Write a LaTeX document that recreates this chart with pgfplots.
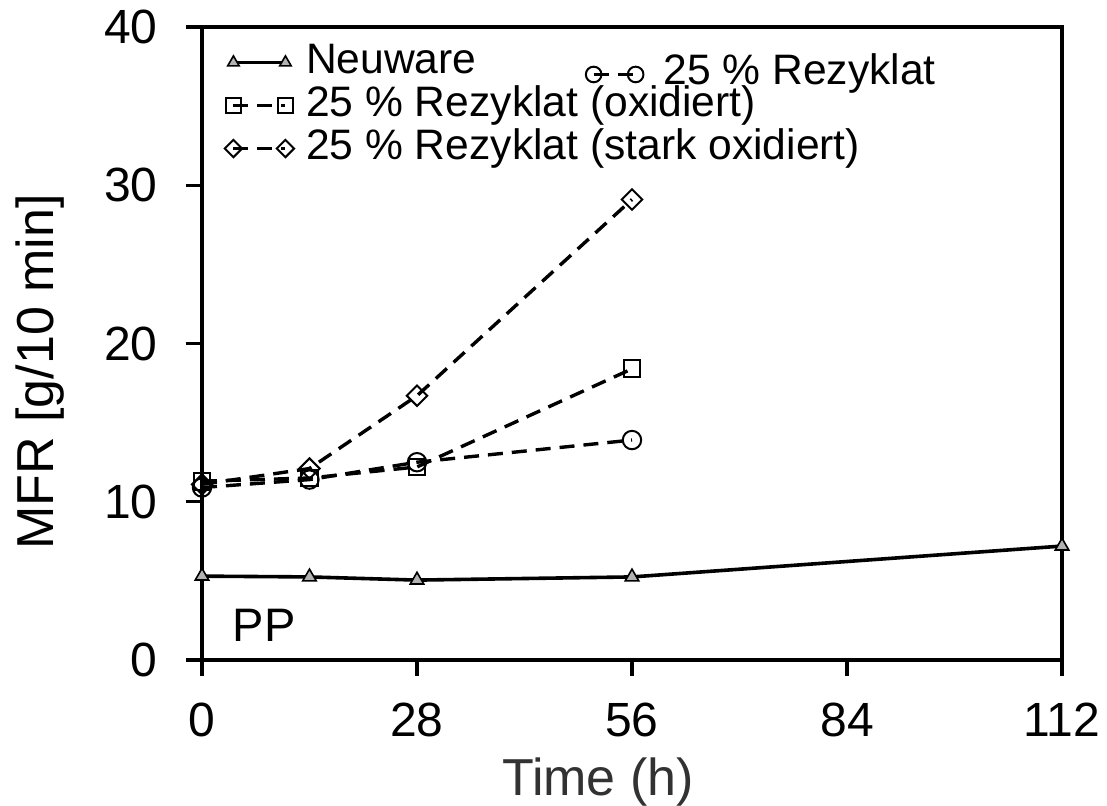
\documentclass[border=0pt]{standalone}
\usepackage{fontspec}
\setmainfont{Liberation Sans}
\usepackage{pgfplots}
\usepackage{pgfplotstable}
\pgfplotsset{compat=1.18}

% MFR of PP after ageing time (h)
\pgfplotstableread{
t    mfr
0    5.30
14   5.25
28   5.05
56   5.25
112  7.20
}\neuware

\pgfplotstableread{
t    mfr
0    10.9
14   11.4
28   12.5
56   13.9
}\rezyklat

\pgfplotstableread{
t    mfr
0    11.3
14   11.5
28   12.2
56   18.4
}\oxidiert

\pgfplotstableread{
t    mfr
0    11.1
14   12.1
28   16.7
56   29.1
}\starkoxidiert

\pgfplotsset{
  mfrlegend/.style={
    legend image code/.code={
      \draw[mark repeat=2, mark phase=1, ##1,
            every mark/.append style={scale=0.85}]
        plot coordinates {(0pt,0pt) (#1/2,0pt) (#1,0pt)};
    }
  },
  tri/.style={solid, line width=1.8pt, black,
    mark=triangle*, mark size=3.9pt,
    mark options={solid, fill=gray!60, draw=black, line width=0.8pt}},
  dsh/.style={line width=1.7pt, black, dash pattern=on 7.5pt off 4.5pt},
  circ/.style={dsh, mark=o, mark size=4.6pt,
    mark options={solid, line width=1pt}},
  sqr/.style={dsh, mark=square, mark size=4.2pt,
    mark options={solid, line width=1pt}},
  dmd/.style={dsh, mark=square, mark size=3.6pt,
    mark options={solid, rotate=45, line width=1pt}},
}

\begin{document}
\begin{tikzpicture}
\path[use as bounding box] (-101pt,-72.5pt) rectangle (452.5pt,330pt);
\begin{axis}[
  at={(0pt,0pt)}, anchor=south west,
  scale only axis, width=430pt, height=316.5pt,
  xmin=0, xmax=112, ymin=0, ymax=40,
  xtick={0,28,56,84,112}, ytick={0,10,20,30,40},
  tick pos=left, tick align=outside, major tick length=8pt,
  axis line style={line width=1.6pt, black},
  every tick/.style={line width=1.6pt, black},
  /pgf/number format/assume math mode=true,
  tick label style={font=\fontsize{24}{24}\selectfont, inner sep=0pt},
  xticklabel style={anchor=north, yshift=-13.5pt},
  yticklabel style={anchor=east, xshift=-14pt},
  xlabel={Time (h)},
  xlabel style={at={(axis description cs:0.4605,-0.2133)}, anchor=base,
    font=\fontsize{26}{26}\selectfont, text={rgb,255:red,50;green,50;blue,50}},
  ylabel={MFR [g/10 min]},
  ylabel style={at={(axis description cs:-0.1721,0.455)}, anchor=base,
    font=\fontsize{26}{26}\selectfont},
  mfrlegend=26pt,
  legend cell align=left,
  legend style={at={(axis description cs:0.0265,0.9747)}, anchor=north west,
    draw=none, fill=none, inner sep=0pt, outer sep=0pt,
    row sep=2pt, column sep=6pt,
    font=\fontsize{21.3}{21.3}\selectfont,
    nodes={inner sep=0pt, text height=15pt, text depth=4.5pt}},
]
\addplot[tri] table[x=t, y=mfr] {\neuware};
\addlegendentry{Neuware}
\addplot[circ, forget plot] table[x=t, y=mfr] {\rezyklat};
\addplot[sqr] table[x=t, y=mfr] {\oxidiert};
\addlegendentry{25 \% Rezyklat (oxidiert)}
\addplot[dmd] table[x=t, y=mfr] {\starkoxidiert};
\addlegendentry{25 \% Rezyklat (stark oxidiert)}
\node[anchor=base west, inner sep=0pt, font=\fontsize{23.5}{23.5}\selectfont]
  at (axis description cs:0.0355,0.0300) {PP};
\end{axis}
% second legend entry sits to the right of the first row
\begin{axis}[
  at={(0pt,0pt)}, anchor=south west,
  scale only axis, width=430pt, height=316.5pt,
  xmin=0, xmax=112, ymin=0, ymax=40, hide axis,
  mfrlegend=21pt,
  legend cell align=left,
  legend style={at={(axis description cs:0.4463,0.9558)}, anchor=north west,
    draw=none, fill=none, inner sep=0pt, outer sep=0pt,
    column sep=10pt,
    font=\fontsize{21.3}{21.3}\selectfont,
    nodes={inner sep=0pt, text height=15pt, text depth=4.5pt}},
]
\addlegendimage{circ}
\addlegendentry{25 \% Rezyklat}
\end{axis}
\end{tikzpicture}
\end{document}
